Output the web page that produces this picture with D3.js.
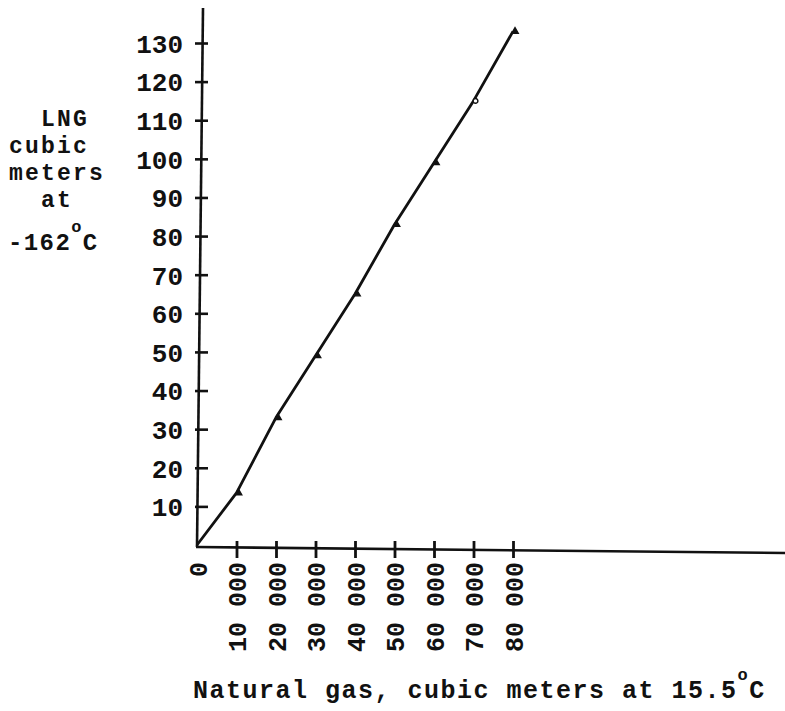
<!DOCTYPE html>
<html>
<head>
<meta charset="utf-8">
<script src="https://cdn.jsdelivr.net/npm/d3@7/dist/d3.min.js"></script>
<style>
  html, body { margin: 0; padding: 0; background: #fff; }
  svg { display: block; }
  text { font-family: "Liberation Mono", "DejaVu Sans Mono", monospace; font-weight: bold; fill: #111; }
</style>
</head>
<body>
<svg id="chart" width="785" height="711"></svg>
<script>
// ---- data ----
const gasVolumes = [0, 10000, 20000, 30000, 40000, 50000, 60000, 70000, 80000];
const lngVolumes = [0, 13.5, 33, 49, 65, 83, 99, 115, 133];
const xTickValues = [0, 10000, 20000, 30000, 40000, 50000, 60000, 70000, 80000];
const xTickLabels = ["0", "10 000", "20 000", "30 000", "40 000", "50 000", "60 000", "70 000", "80 000"];
const yTickValues = [10, 20, 30, 40, 50, 60, 70, 80, 90, 100, 110, 120, 130];
const yTitleLines = ["LNG", "cubic", "meters", "at"];

const svg = d3.select("#chart");
const x = d3.scaleLinear().domain([0, 80000]).range([197, 513]);
const y = d3.scaleLinear().domain([0, 130]).range([545, 43]);
const axisX = 201;
const axisY = 549;
const ink = "#111";

// y axis
const yAxis = d3.axisLeft(y).tickValues(yTickValues).tickFormat(d3.format("d")).tickSize(6).tickPadding(12);
const gy = svg.append("g").attr("transform", `translate(${axisX},0)`).call(yAxis);
gy.select(".domain").remove();
gy.selectAll(".tick line").attr("x1", -6).attr("x2", 7).attr("stroke", ink).attr("stroke-width", 2.6);
gy.selectAll(".tick text").attr("font-size", 26).attr("font-family", null).attr("fill", ink).attr("dy", "0.36em");
svg.append("line").attr("x1", axisX + 2).attr("x2", axisX - 4).attr("y1", 8).attr("y2", 547)
  .attr("stroke", ink).attr("stroke-width", 2.6);

// x axis
const xAxis = d3.axisBottom(x).tickValues(xTickValues).tickFormat((d, i) => xTickLabels[i]).tickSize(8);
const gx = svg.append("g").attr("transform", `translate(0,${axisY})`).call(xAxis);
gx.select(".domain").remove();
gx.selectAll(".tick line").attr("y1", -8).attr("y2", 9).attr("stroke", ink).attr("stroke-width", 2.8)
  .filter(d => d === 0).remove();
gx.selectAll(".tick text")
  .attr("font-size", 25).attr("font-family", null).attr("fill", ink)
  .attr("transform", "rotate(-90)")
  .attr("text-anchor", "end")
  .attr("x", -13).attr("y", 0).attr("dy", "0.36em")
  .attr("xml:space", "preserve");
svg.append("line").attr("x1", 196).attr("x2", 785).attr("y1", 547).attr("y2", 553)
  .attr("stroke", ink).attr("stroke-width", 2.6);

// data line
const pts = gasVolumes.map((g, i) => [g, lngVolumes[i]]);
svg.append("path").datum(pts)
  .attr("fill", "none").attr("stroke", ink).attr("stroke-width", 2.8)
  .attr("stroke-linejoin", "round")
  .attr("d", d3.line().x(d => x(d[0])).y(d => y(d[1])));

// small point marks
svg.append("g").selectAll("path").data(pts.slice(1)).join("path")
  .attr("transform", d => `translate(${x(d[0]) + 2},${y(d[1])})`)
  .attr("d", (d, i) => d3.symbol().type(i === 6 ? d3.symbolCircle : d3.symbolTriangle).size(i === 6 ? 18 : 18)())
  .attr("fill", (d, i) => i === 6 ? "#fff" : ink)
  .attr("stroke", ink).attr("stroke-width", 1.4);

// y title
const yt = svg.append("g");
const yTitleX = [65, 49, 57, 57];
const yTitleY = [126, 153, 180, 207];
yTitleLines.forEach((t, i) => {
  yt.append("text").attr("x", yTitleX[i]).attr("y", yTitleY[i]).attr("text-anchor", "middle")
    .attr("font-size", 23).attr("letter-spacing", 2.2).text(t);
});
const t5 = yt.append("text").attr("x", 8).attr("y", 250).attr("font-size", 24).attr("letter-spacing", 1.4);
t5.append("tspan").text("-162");
t5.append("tspan").attr("font-size", 17).attr("dy", -18).text("o");
t5.append("tspan").attr("dy", 18).text("C");

// x title
const xt = svg.append("text").attr("x", 193).attr("y", 698).attr("font-size", 25).attr("letter-spacing", 1.5);
xt.append("tspan").text("Natural gas, cubic meters at 15.5");
xt.append("tspan").attr("font-size", 17).attr("dy", -18).text("o");
xt.append("tspan").attr("dy", 18).text("C");
</script>
</body>
</html>
